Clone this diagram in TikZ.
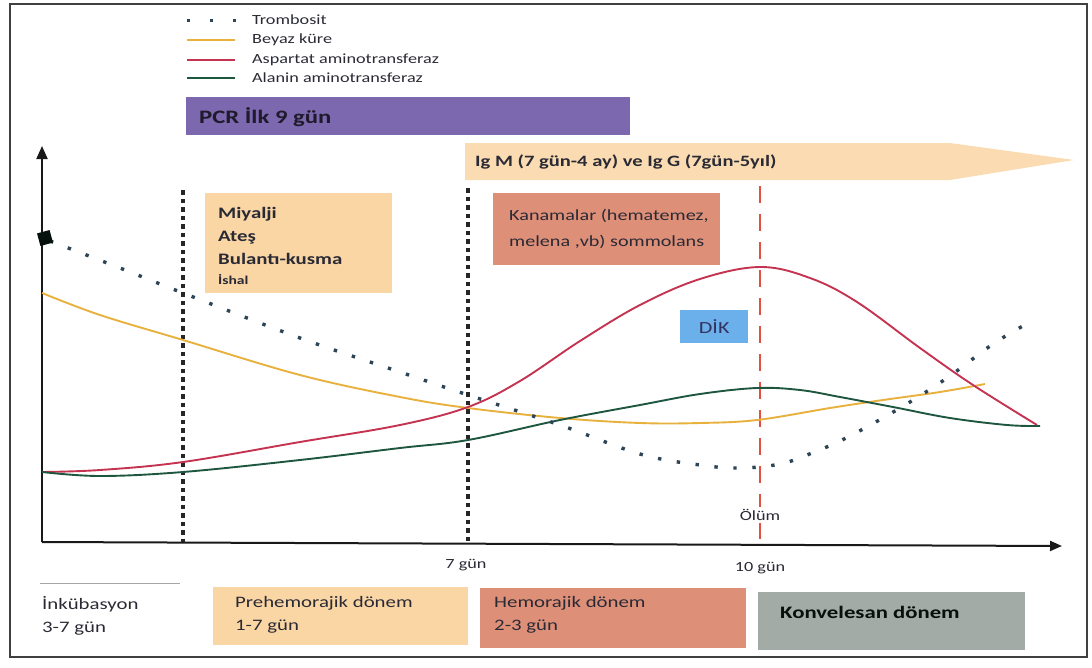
\documentclass[tikz,border=0pt]{standalone}
\usepackage{fontspec}
\setmainfont{Carlito}[FakeStretch=1.3]
\usetikzlibrary{arrows.meta}
\definecolor{peach}{HTML}{FAD6A5}
\definecolor{salmon}{HTML}{DE8F78}
\definecolor{purp}{HTML}{7B68AE}
\definecolor{dikc}{HTML}{6BB0EA}
\definecolor{konv}{HTML}{A3ABA6}
\definecolor{ylw}{HTML}{E8B13E}
\definecolor{rd}{HTML}{C43350}
\definecolor{grn}{HTML}{1F5640}
\definecolor{dotc}{HTML}{2C4455}
\definecolor{txt}{HTML}{2A2A35}
\definecolor{rdash}{HTML}{E2503F}
\begin{document}
\begin{tikzpicture}[x=1pt,y=-1pt,
  boxnode/.style={draw=none,anchor=north west,inner sep=0pt},
  lbl/.style={anchor=west,inner sep=0pt,text=txt,align=left},
  curve/.style={line width=1.9pt},
  trombo/.style={dotc,line width=3.4pt,dash pattern=on 3.4pt off 15.6pt},
  vdash/.style={black!85,line width=3.2pt,dash pattern=on 4.5pt off 4pt},
  axisline/.style={black!90,line width=2pt}]
\useasboundingbox (0,0) rectangle (1092,667);
% frame
\draw[black!75,line width=1.6pt] (10,4) rectangle (1087,657);
% legend
\coordinate (l1a) at (187,20); \coordinate (l1b) at (240,20);
\draw[trombo,line width=3pt,dash pattern=on 3pt off 20pt] (l1a) -- (l1b);
\node[lbl,font=\fontsize{14}{16}\selectfont] (lt1) at (252,20) {Trombosit};
\coordinate (l2a) at (187,40); \coordinate (l2b) at (235,40);
\draw[ylw,line width=1.5pt] (l2a) -- (l2b);
\node[lbl,font=\fontsize{14}{16}\selectfont] (lt2) at (252,40) {Beyaz küre};
\coordinate (l3a) at (187,60); \coordinate (l3b) at (235,60);
\draw[rd,line width=1.5pt] (l3a) -- (l3b);
\node[lbl,font=\fontsize{14}{16}\selectfont] (lt3) at (252,60) {Aspartat aminotransferaz};
\coordinate (l4a) at (187,78); \coordinate (l4b) at (235,78);
\draw[grn,line width=1.5pt] (l4a) -- (l4b);
\node[lbl,font=\fontsize{14}{16}\selectfont] (lt4) at (252,78) {Alanin aminotransferaz};
% PCR bar
\node[boxnode,fill=purp,minimum width=444pt,minimum height=38pt] (pcr) at (186,97) {};
\node[lbl,font=\bfseries\fontsize{19}{20}\selectfont,text=black!75!purp] (pcrt) at (199,117) {PCR İlk 9 gün};
% IgM arrow
\fill[peach!85!white] (465,143) -- (950,143) -- (1074,160) -- (950,180) -- (465,180) -- cycle;
\node[lbl,font=\bfseries\fontsize{15.8}{18}\selectfont] (igt) at (475,162) {Ig M (7 gün-4 ay) ve Ig G (7gün-5yıl)};
% axes
\coordinate (o) at (42,542);
\coordinate (ytop) at (42,146);
\coordinate (xend) at (1062,546);
\draw[axisline,-{Triangle[length=13pt,width=11pt]}] (o) -- (ytop);
\draw[axisline,-{Triangle[length=12pt,width=10pt]}] (o) -- (xend);
% vertical markers
\coordinate (v1t) at (183,190); \coordinate (v1b) at (183,542);
\coordinate (v2t) at (468,188); \coordinate (v2b) at (468,542);
\coordinate (v3t) at (760,186); \coordinate (v3b) at (760,542);
\draw[vdash] (v1t) -- (v1b);
\draw[vdash] (v2t) -- (v2b);
\draw[rdash,line width=2.4pt,dash pattern=on 17pt off 11pt] (v3t) -- (v3b);
% symptom boxes
\node[boxnode,fill=peach,minimum width=187pt,minimum height=100pt] (sym) at (205,193) {};
\node[lbl,font=\bfseries\fontsize{16}{23}\selectfont,anchor=north west] (symt) at (218,207)
  {Miyalji\\Ateş\\Bulantı-kusma\\[-3pt]{\fontsize{12}{14}\selectfont İshal}};
\node[boxnode,fill=salmon,minimum width=227pt,minimum height=72pt] (kan) at (493,193) {};
\node[lbl,font=\fontsize{15.5}{26}\selectfont,anchor=north west] (kant) at (509,209)
  {Kanamalar (hematemez,\\melena ,vb) sommolans};
% curves
\draw[curve,ylw] plot[smooth,tension=0.6] coordinates {(42,293) (100,315) (183,340) (300,375) (400,397) (468,408) (560,418) (640,423) (700,423) (757,420) (830,408) (883,400) (940,392) (985,384)};
\draw[curve,rd] plot[smooth,tension=0.6] coordinates {(42,472) (100,470) (183,462) (300,442) (400,425) (468,407) (520,381) (580,341) (640,305) (700,279) (760,267) (810,278) (857,302) (920,348) (973,385) (1037,425)};
\draw[curve,grn] plot[smooth,tension=0.6] coordinates {(42,472) (100,476) (183,472) (300,460) (400,448) (468,440) (560,420) (640,405) (700,394) (757,388) (800,390) (840,397) (893,407) (950,418) (1007,425) (1040,426)};
\draw[trombo] plot[smooth,tension=0.6] coordinates {(50,241) (120,268) (183,293) (300,338) (400,372) (468,395) (560,425) (640,454) (700,465) (740,468) (780,464) (812,453) (848,437) (900,408) (947,378) (993,344) (1030,322)};
% marker
\node[fill=black!80!grn,minimum size=13pt,inner sep=0pt,rotate=15] (mk) at (45,238) {};
% DIK
\node[boxnode,fill=dikc,minimum width=68pt,minimum height=33pt] (dik) at (680,310) {};
\node[font=\fontsize{17}{19}\selectfont,text=black!70!blue!60!gray,inner sep=0pt] (dikt) at (dik.center) {DİK};
% axis labels
\node[lbl,font=\fontsize{14}{16}\selectfont,fill=white,inner sep=2pt,anchor=center] (olum) at (760,515) {Ölüm};
\node[lbl,font=\fontsize{14}{16}\selectfont,anchor=center] (g7) at (466,565) {7 gün};
\node[lbl,font=\fontsize{14}{16}\selectfont,anchor=center] (g10) at (760,568) {10 gün};
% bottom phases
\coordinate (bl1) at (40,583); \coordinate (bl2) at (180,583);
\draw[gray!70,line width=0.6pt] (bl1) -- (bl2);
\node[lbl,font=\fontsize{16}{23}\selectfont,anchor=north west] (ink) at (42,596) {İnkübasyon\\3-7 gün};
\node[boxnode,fill=peach,minimum width=255pt,minimum height=58pt] (pre) at (213,587) {};
\node[lbl,font=\fontsize{16}{23}\selectfont,anchor=north west] (pret) at (235,596) {Prehemorajik dönem\\1-7 gün};
\node[boxnode,fill=salmon,minimum width=266pt,minimum height=60pt] (hem) at (480,588) {};
\node[lbl,font=\fontsize{16}{23}\selectfont,anchor=north west] (hemt) at (494,596) {Hemorajik dönem\\2-3 gün};
\node[boxnode,fill=konv,minimum width=267pt,minimum height=58pt] (kon) at (758,592) {};
\node[lbl,font=\bfseries\fontsize{17.5}{20}\selectfont,text=black!80!grn] (kont) at (780,612) {Konvelesan dönem};
\end{tikzpicture}
\end{document}
